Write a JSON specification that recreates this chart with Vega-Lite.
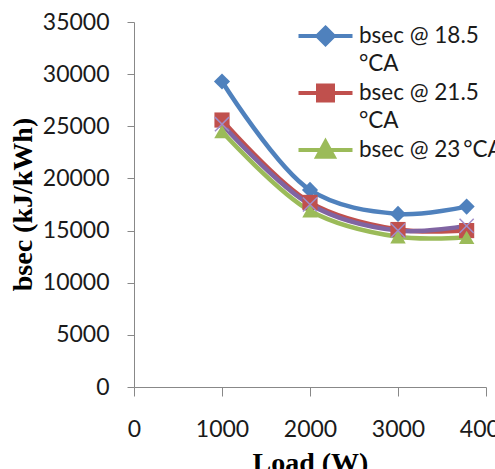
{
  "$schema": "https://vega.github.io/schema/vega-lite/v6.json",
  "autosize": "none",
  "width": 352,
  "height": 365,
  "padding": {"left": 134, "top": 22, "right": 9, "bottom": 82},
  "background": "white",
  "config": {"view": {"stroke": null}, "axis": {"grid": false}},
  "data": {"values": [
    {"load": 1000, "bsec": 29300, "series": "bsec @ 18.5 °CA"},
    {"load": 2000, "bsec": 18900, "series": "bsec @ 18.5 °CA"},
    {"load": 3000, "bsec": 16600, "series": "bsec @ 18.5 °CA"},
    {"load": 3780, "bsec": 17300, "series": "bsec @ 18.5 °CA"},
    {"load": 1000, "bsec": 25600, "series": "bsec @ 21.5 °CA"},
    {"load": 2000, "bsec": 17700, "series": "bsec @ 21.5 °CA"},
    {"load": 3000, "bsec": 15100, "series": "bsec @ 21.5 °CA"},
    {"load": 3780, "bsec": 15000, "series": "bsec @ 21.5 °CA"},
    {"load": 1000, "bsec": 24500, "series": "bsec @ 23 °CA"},
    {"load": 2000, "bsec": 16900, "series": "bsec @ 23 °CA"},
    {"load": 3000, "bsec": 14400, "series": "bsec @ 23 °CA"},
    {"load": 3780, "bsec": 14350, "series": "bsec @ 23 °CA"},
    {"load": 1000, "bsec": 25200, "series": "bsec @ 25 °CA"},
    {"load": 2000, "bsec": 17500, "series": "bsec @ 25 °CA"},
    {"load": 3000, "bsec": 15000, "series": "bsec @ 25 °CA"},
    {"load": 3780, "bsec": 15450, "series": "bsec @ 25 °CA"}
  ]},
  "encoding": {
    "x": {"field": "load", "type": "quantitative",
      "scale": {"domain": [0, 4000], "nice": false},
      "axis": {"values": [0, 1000, 2000, 3000, 4000], "title": "Load (W)", "format": "d",
        "domainColor": "#888888", "tickColor": "#888888", "tickSize": 9,
        "labelFont": "Lato", "labelFontSize": 23, "labelColor": "#1a1a1a", "labelPadding": 22,
        "labelFlush": false, "labelOverlap": false,
        "titleFont": "Liberation Serif", "titleFontSize": 28, "titleFontWeight": "bold", "titleColor": "black",
        "titleBaseline": "top", "titleY": 62, "titleX": 176}},
    "y": {"field": "bsec", "type": "quantitative",
      "scale": {"domain": [0, 35000], "nice": false},
      "axis": {"values": [0, 5000, 10000, 15000, 20000, 25000, 30000, 35000], "title": "bsec (kJ/kWh)",
        "format": "d",
        "domainColor": "#888888", "tickColor": "#888888", "tickSize": 7,
        "labelFont": "Lato", "labelFontSize": 23, "labelColor": "#1a1a1a", "labelPadding": 18,
        "labelFlush": false, "labelOverlap": false,
        "titleFont": "Liberation Serif", "titleFontSize": 28, "titleFontWeight": "bold", "titleColor": "black",
        "titleAngle": -90, "titleBaseline": "middle", "titleX": -111, "titleY": 182}}
  },
  "layer": [
    {"mark": {"type": "line", "interpolate": "catmull-rom", "strokeWidth": 4.5},
      "encoding": {
        "color": {"field": "series", "type": "nominal",
          "scale": {"domain": ["bsec @ 18.5 °CA", "bsec @ 21.5 °CA", "bsec @ 23 °CA", "bsec @ 25 °CA"],
            "range": ["#4F81BD", "#C0504D", "#9BBB59", "#8064A2"]},
          "legend": {"orient": "none", "legendX": 174.5, "legendY": -3, "padding": 0,
            "values": ["bsec @ 18.5 °CA", "bsec @ 21.5 °CA", "bsec @ 23 °CA"],
            "title": null, "labelFont": "Lato", "labelFontSize": 22.5, "labelColor": "#1a1a1a",
            "labelBaseline": "alphabetic", "labelOffset": 16.5, "labelLimit": 400,
            "symbolSize": 900, "symbolStrokeWidth": 4, "rowPadding": -5,
            "labelExpr": "indexof(datum.label, '23') >= 0 ? replace(datum.label, ' °CA', '\u2009°CA') : [replace(datum.label, ' °CA', ''), '°CA']",
            "encode": {
              "symbols": {"update": {
                "shape": {"signal": "datum.value == 'bsec @ 18.5 °CA' ? 'M-1.8,0H1.8M0,-0.55L0.55,0L0,0.55L-0.55,0Z' : datum.value == 'bsec @ 21.5 °CA' ? 'M-1.8,0H1.8M-0.5,-0.5H0.5V0.5H-0.5Z' : 'M-1.8,0H1.8M0,-0.55L0.55,0.45H-0.55Z'"},
                "fill": {"scale": "color", "field": "value"},
                "stroke": {"scale": "color", "field": "value"},
                "opacity": {"value": 1}, "fillOpacity": {"value": 1}, "strokeOpacity": {"value": 1}}},
              "labels": {"update": {"dy": {"value": 7}, "lineHeight": {"value": 28}}}
            }}}
      }},
    {"transform": [{"filter": "datum.series == 'bsec @ 18.5 °CA'"}],
      "mark": {"type": "point", "shape": "diamond", "filled": true, "size": 260, "opacity": 1, "color": "#4F81BD"}},
    {"transform": [{"filter": "datum.series == 'bsec @ 21.5 °CA'"}],
      "mark": {"type": "point", "shape": "square", "filled": true, "size": 230, "opacity": 1, "color": "#C0504D"}},
    {"transform": [{"filter": "datum.series == 'bsec @ 23 °CA'"}],
      "mark": {"type": "point", "shape": "triangle-up", "filled": true, "size": 240, "opacity": 1, "color": "#9BBB59"}},
    {"transform": [{"filter": "datum.series == 'bsec @ 25 °CA'"}],
      "mark": {"type": "point", "shape": "M-1,-1L1,1M-1,1L1,-1", "filled": false, "size": 200, "opacity": 1, "strokeWidth": 1.5, "color": "#A08CC8"}}
  ]
}
